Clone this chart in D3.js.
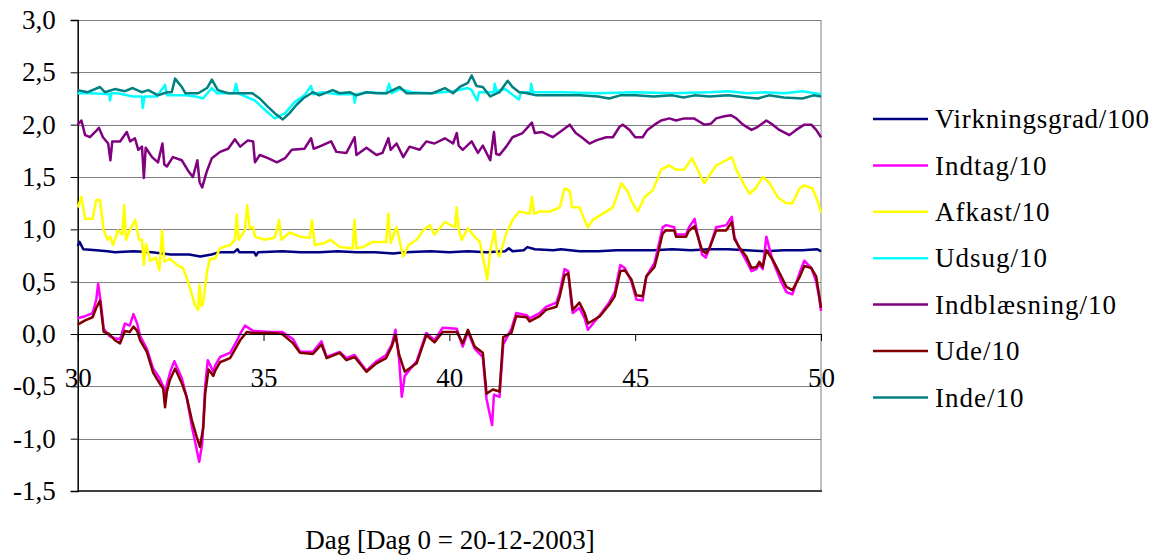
<!DOCTYPE html>
<html>
<head>
<meta charset="utf-8">
<script src="https://cdn.jsdelivr.net/npm/d3@7"></script>
<style>
  body { margin: 0; background: #fff; }
  svg, svg text { font-family: "Liberation Serif", "Times New Roman", serif; }
</style>
</head>
<body>
<div id="chart"></div>
<script>
const width = 1160;
const height = 558;

// Series data: [day, value]
const virkningsgrad = [[30,0.84],[30.05,0.88],[30.15,0.81],[30.5,0.8],[30.8,0.79],[31.0,0.78],[31.5,0.79],[32.0,0.78],[32.5,0.76],[33.0,0.76],[33.3,0.74],[33.6,0.76],[33.8,0.78],[34.2,0.78],[34.3,0.81],[34.35,0.78],[34.75,0.78],[34.8,0.75],[34.85,0.78],[35.5,0.79],[36.0,0.78],[36.5,0.78],[37.0,0.79],[37.5,0.78],[38.0,0.78],[38.5,0.77],[38.8,0.78],[39.5,0.79],[40.0,0.78],[40.5,0.79],[41.0,0.78],[41.5,0.79],[41.6,0.82],[41.7,0.79],[42.0,0.8],[42.1,0.83],[42.3,0.81],[42.8,0.8],[43.0,0.81],[43.5,0.79],[44.0,0.79],[44.5,0.8],[45.0,0.8],[45.5,0.8],[46.0,0.81],[46.5,0.8],[47.0,0.81],[47.5,0.81],[48.0,0.8],[48.5,0.79],[49.0,0.8],[49.5,0.8],[49.9,0.81],[50,0.79]];

const indtag = [[30,0.15],[30.2,0.17],[30.4,0.2],[30.5,0.33],[30.55,0.48],[30.62,0.3],[30.7,0.05],[30.85,-0.02],[31.0,-0.04],[31.14,-0.05],[31.27,0.1],[31.4,0.08],[31.5,0.19],[31.6,0.1],[31.68,-0.02],[31.86,-0.14],[32.03,-0.33],[32.2,-0.42],[32.3,-0.5],[32.35,-0.6],[32.4,-0.48],[32.5,-0.35],[32.6,-0.26],[32.8,-0.42],[32.93,-0.6],[33.07,-0.88],[33.2,-1.1],[33.27,-1.22],[33.35,-1.05],[33.43,-0.5],[33.5,-0.25],[33.65,-0.36],[33.7,-0.3],[33.83,-0.22],[34.1,-0.18],[34.23,-0.1],[34.37,0.0],[34.5,0.08],[34.72,0.03],[35.2,0.02],[35.5,0.02],[35.8,-0.05],[35.98,-0.17],[36.33,-0.17],[36.56,-0.07],[36.7,-0.22],[37.05,-0.17],[37.23,-0.23],[37.45,-0.2],[37.77,-0.35],[38.04,-0.26],[38.3,-0.2],[38.45,-0.1],[38.55,0.04],[38.65,-0.25],[38.72,-0.6],[38.8,-0.4],[39.12,-0.26],[39.38,0.01],[39.6,-0.06],[39.82,0.06],[40.2,0.05],[40.36,-0.12],[40.5,0.02],[40.68,-0.14],[40.9,-0.22],[41.0,-0.62],[41.15,-0.87],[41.2,-0.58],[41.35,-0.6],[41.45,-0.1],[41.67,0.05],[41.8,0.2],[42.08,0.18],[42.16,0.15],[42.43,0.2],[42.6,0.26],[42.88,0.3],[42.97,0.4],[43.1,0.62],[43.2,0.6],[43.28,0.3],[43.32,0.2],[43.5,0.25],[43.64,0.15],[43.73,0.04],[44.05,0.18],[44.3,0.3],[44.45,0.4],[44.6,0.66],[44.72,0.63],[44.9,0.5],[45.03,0.33],[45.2,0.32],[45.3,0.55],[45.52,0.68],[45.6,0.8],[45.74,1.02],[45.83,1.04],[46.05,1.02],[46.1,0.95],[46.37,0.95],[46.45,1.02],[46.6,1.1],[46.67,0.97],[46.8,0.76],[46.9,0.73],[47.0,0.82],[47.18,1.02],[47.45,1.04],[47.6,1.12],[47.67,0.93],[47.8,0.82],[47.99,0.7],[48.13,0.6],[48.26,0.62],[48.34,0.67],[48.43,0.62],[48.53,0.93],[48.7,0.7],[48.93,0.5],[49.07,0.4],[49.23,0.38],[49.42,0.58],[49.55,0.7],[49.74,0.63],[49.87,0.5],[49.95,0.35],[50,0.22]];

const afkast = [[30,1.21],[30.1,1.31],[30.2,1.1],[30.4,1.1],[30.5,1.28],[30.6,1.28],[30.7,0.99],[30.8,0.9],[30.87,0.93],[30.95,0.85],[31.08,0.99],[31.2,0.95],[31.25,1.23],[31.3,0.9],[31.43,1.01],[31.55,1.09],[31.65,0.9],[31.73,0.9],[31.78,0.66],[31.84,0.86],[31.95,0.7],[32.1,0.73],[32.2,0.61],[32.27,0.99],[32.33,0.69],[32.48,0.72],[32.67,0.66],[32.83,0.63],[32.95,0.52],[33.08,0.37],[33.15,0.28],[33.24,0.23],[33.28,0.47],[33.32,0.27],[33.37,0.28],[33.48,0.6],[33.56,0.72],[33.7,0.72],[33.83,0.82],[34.1,0.85],[34.23,0.9],[34.28,1.14],[34.33,0.9],[34.5,0.99],[34.56,1.23],[34.63,1.01],[34.72,1.02],[34.77,0.93],[35.03,0.9],[35.3,0.92],[35.42,1.09],[35.48,0.9],[35.7,0.97],[35.98,0.93],[36.25,0.92],[36.3,1.09],[36.38,0.85],[36.65,0.87],[36.8,0.9],[37.05,0.83],[37.4,0.82],[37.45,1.09],[37.5,0.82],[37.67,0.83],[37.94,0.88],[38.3,0.88],[38.36,1.15],[38.42,0.87],[38.58,1.02],[38.72,0.8],[38.76,0.74],[38.9,0.85],[39.12,0.9],[39.3,0.99],[39.47,1.04],[39.6,0.95],[39.88,1.07],[40.15,1.02],[40.2,1.21],[40.25,1.0],[40.33,0.9],[40.5,1.01],[40.68,0.93],[40.82,0.88],[40.9,0.74],[41.02,0.52],[41.1,0.8],[41.22,0.99],[41.28,0.78],[41.35,0.74],[41.53,0.96],[41.7,1.09],[41.88,1.17],[42.16,1.15],[42.22,1.31],[42.28,1.15],[42.43,1.17],[42.7,1.17],[42.97,1.21],[43.1,1.39],[43.24,1.37],[43.3,1.21],[43.5,1.21],[43.72,1.02],[43.86,1.09],[44.13,1.15],[44.4,1.21],[44.63,1.44],[44.8,1.36],[44.93,1.25],[45.07,1.17],[45.25,1.31],[45.47,1.37],[45.7,1.57],[45.92,1.61],[46.1,1.57],[46.32,1.57],[46.53,1.68],[46.72,1.54],[46.86,1.44],[47.0,1.52],[47.18,1.61],[47.45,1.66],[47.6,1.69],[47.72,1.57],[47.94,1.42],[48.08,1.34],[48.26,1.4],[48.43,1.5],[48.6,1.45],[48.83,1.31],[49.06,1.25],[49.23,1.25],[49.42,1.39],[49.55,1.42],[49.77,1.39],[49.9,1.28],[50,1.16]];

const udsug = [[30,2.3],[30.38,2.3],[30.85,2.29],[30.87,2.23],[30.9,2.3],[31.08,2.3],[31.48,2.27],[31.73,2.27],[31.75,2.16],[31.8,2.27],[32.13,2.27],[32.35,2.38],[32.4,2.28],[32.9,2.28],[33.16,2.27],[33.37,2.25],[33.61,2.35],[33.75,2.3],[34.2,2.3],[34.26,2.39],[34.32,2.3],[34.77,2.23],[35.04,2.14],[35.3,2.06],[35.58,2.11],[35.85,2.22],[36.1,2.28],[36.28,2.37],[36.33,2.29],[36.57,2.31],[37.0,2.29],[37.43,2.29],[37.45,2.21],[37.5,2.29],[37.8,2.31],[38.3,2.3],[38.38,2.39],[38.45,2.3],[38.66,2.34],[39.0,2.31],[39.5,2.3],[40.1,2.32],[40.5,2.35],[40.6,2.33],[40.75,2.23],[40.8,2.31],[41.2,2.31],[41.22,2.39],[41.27,2.32],[41.5,2.34],[41.87,2.24],[41.93,2.31],[42.18,2.31],[42.2,2.39],[42.25,2.31],[43.0,2.31],[44.0,2.3],[45.0,2.31],[46.0,2.3],[47.0,2.31],[47.5,2.32],[48.0,2.3],[48.5,2.31],[49.0,2.3],[49.5,2.32],[50,2.29]];

const indblaesning = [[30,2.0],[30.1,2.04],[30.2,1.9],[30.33,1.88],[30.47,1.93],[30.57,1.97],[30.68,1.88],[30.82,1.82],[30.88,1.66],[30.93,1.84],[31.14,1.84],[31.32,1.93],[31.41,1.84],[31.54,1.87],[31.63,1.76],[31.73,1.79],[31.78,1.49],[31.83,1.78],[32.0,1.69],[32.16,1.64],[32.28,1.82],[32.33,1.62],[32.4,1.6],[32.56,1.69],[32.8,1.66],[32.97,1.56],[33.1,1.5],[33.22,1.66],[33.28,1.45],[33.35,1.4],[33.48,1.56],[33.61,1.68],[33.83,1.74],[34.05,1.77],[34.23,1.86],[34.37,1.79],[34.58,1.85],[34.72,1.84],[34.77,1.64],[34.9,1.71],[35.12,1.68],[35.36,1.64],[35.58,1.68],[35.76,1.76],[36.1,1.77],[36.28,1.87],[36.35,1.77],[36.5,1.79],[36.82,1.84],[36.96,1.74],[37.23,1.73],[37.45,1.88],[37.5,1.71],[37.77,1.78],[38.04,1.71],[38.2,1.73],[38.36,1.87],[38.42,1.76],[38.58,1.82],[38.76,1.69],[38.93,1.79],[39.2,1.76],[39.38,1.84],[39.6,1.82],[39.88,1.87],[40.1,1.82],[40.2,1.92],[40.25,1.8],[40.36,1.76],[40.6,1.84],[40.77,1.73],[40.9,1.8],[41.1,1.66],[41.2,1.93],[41.26,1.72],[41.35,1.71],[41.53,1.79],[41.7,1.88],[41.97,1.92],[42.22,2.02],[42.3,1.92],[42.5,1.93],[42.78,1.88],[43.05,1.95],[43.24,2.0],[43.4,1.92],[43.56,1.88],[43.77,1.82],[43.95,1.85],[44.22,1.88],[44.4,1.88],[44.58,1.98],[44.67,2.0],[44.85,1.95],[45.0,1.88],[45.2,1.88],[45.33,1.95],[45.52,2.0],[45.7,2.04],[45.92,2.06],[46.1,2.04],[46.32,2.06],[46.58,2.06],[46.72,2.03],[46.86,2.0],[47.04,2.01],[47.18,2.06],[47.4,2.08],[47.58,2.09],[47.72,2.06],[47.9,2.0],[48.13,1.95],[48.3,1.98],[48.53,2.04],[48.7,2.0],[48.88,1.95],[49.15,1.9],[49.33,1.95],[49.55,2.0],[49.74,2.0],[49.87,1.95],[50,1.88]];

const ude = [[30,0.09],[30.2,0.13],[30.4,0.16],[30.5,0.25],[30.6,0.32],[30.7,0.02],[30.85,0.0],[31.0,-0.06],[31.14,-0.09],[31.27,0.03],[31.4,0.02],[31.5,0.07],[31.6,0.03],[31.68,-0.06],[31.86,-0.17],[32.03,-0.37],[32.2,-0.47],[32.3,-0.52],[32.35,-0.7],[32.4,-0.55],[32.48,-0.44],[32.62,-0.33],[32.8,-0.47],[32.93,-0.6],[33.07,-0.82],[33.2,-0.98],[33.29,-1.08],[33.38,-0.89],[33.43,-0.57],[33.52,-0.34],[33.65,-0.4],[33.7,-0.35],[33.83,-0.27],[34.1,-0.23],[34.23,-0.15],[34.37,-0.06],[34.55,0.02],[34.72,0.01],[35.2,0.01],[35.5,0.0],[35.8,-0.09],[35.98,-0.18],[36.33,-0.19],[36.56,-0.1],[36.7,-0.23],[37.05,-0.18],[37.23,-0.25],[37.45,-0.22],[37.77,-0.36],[38.04,-0.28],[38.3,-0.23],[38.45,-0.12],[38.55,-0.01],[38.65,-0.2],[38.8,-0.36],[39.12,-0.28],[39.38,-0.01],[39.6,-0.08],[39.82,0.02],[40.2,0.02],[40.36,-0.09],[40.5,0.04],[40.68,-0.12],[40.9,-0.18],[41.0,-0.57],[41.17,-0.53],[41.35,-0.55],[41.45,-0.03],[41.67,0.01],[41.8,0.17],[42.08,0.16],[42.16,0.12],[42.43,0.17],[42.6,0.23],[42.88,0.26],[42.97,0.36],[43.1,0.56],[43.2,0.58],[43.28,0.35],[43.32,0.23],[43.5,0.3],[43.64,0.2],[43.73,0.1],[44.05,0.17],[44.3,0.28],[44.45,0.36],[44.6,0.6],[44.72,0.61],[44.9,0.52],[45.03,0.37],[45.2,0.36],[45.3,0.55],[45.52,0.64],[45.6,0.75],[45.74,0.96],[45.83,0.99],[46.05,0.99],[46.1,0.93],[46.37,0.93],[46.45,0.99],[46.6,1.03],[46.67,0.95],[46.8,0.8],[46.9,0.77],[47.0,0.82],[47.18,0.99],[47.45,0.99],[47.6,1.07],[47.67,0.91],[47.8,0.83],[47.99,0.74],[48.13,0.63],[48.26,0.64],[48.34,0.69],[48.43,0.64],[48.53,0.8],[48.7,0.71],[48.93,0.55],[49.07,0.45],[49.23,0.42],[49.42,0.54],[49.55,0.65],[49.74,0.63],[49.87,0.55],[49.95,0.37],[50,0.25]];

const inde = [[30,2.33],[30.27,2.31],[30.6,2.36],[30.73,2.31],[31.0,2.34],[31.27,2.32],[31.48,2.35],[31.72,2.31],[31.9,2.33],[32.16,2.28],[32.4,2.31],[32.53,2.31],[32.62,2.44],[32.8,2.36],[32.9,2.3],[33.24,2.3],[33.48,2.35],[33.61,2.43],[33.77,2.33],[34.05,2.3],[34.4,2.3],[34.7,2.3],[34.9,2.25],[35.12,2.17],[35.3,2.11],[35.52,2.05],[35.7,2.11],[35.89,2.19],[36.1,2.26],[36.33,2.31],[36.5,2.28],[36.86,2.33],[37.05,2.3],[37.32,2.31],[37.5,2.28],[37.77,2.31],[38.04,2.3],[38.3,2.3],[38.66,2.36],[38.85,2.3],[39.55,2.3],[39.88,2.35],[40.1,2.3],[40.28,2.36],[40.5,2.4],[40.6,2.47],[40.73,2.37],[40.9,2.36],[41.1,2.27],[41.35,2.31],[41.57,2.42],[41.7,2.36],[41.88,2.31],[42.1,2.3],[42.34,2.28],[43.0,2.28],[43.5,2.28],[44.0,2.27],[44.3,2.25],[44.6,2.28],[45.0,2.28],[45.5,2.27],[46.0,2.28],[46.3,2.26],[46.6,2.28],[47.0,2.27],[47.5,2.28],[48.0,2.26],[48.3,2.25],[48.6,2.28],[49.0,2.26],[49.5,2.25],[49.8,2.28],[50,2.27]];

const seriesNames = ['Virkningsgrad/100', 'Indtag/10', 'Afkast/10', 'Udsug/10', 'Indblæsning/10', 'Ude/10', 'Inde/10'];
const seriesData = [virkningsgrad, indtag, afkast, udsug, indblaesning, ude, inde];
const seriesColors = ['#000080', '#FF00FF', '#FFFF00', '#00FFFF', '#800080', '#800000', '#008080'];

const xTicks = [30, 35, 40, 45, 50];
const yTicks = [-1.5, -1.0, -0.5, 0.0, 0.5, 1.0, 1.5, 2.0, 2.5, 3.0];
const xTitle = 'Dag [Dag 0 = 20-12-2003]';

const plot = { left: 77.7, right: 821, top: 20, bottom: 491 };
const fontSize = 27;
const serif = '"Liberation Serif", "Times New Roman", serif';

const svg = d3.select('#chart').append('svg')
  .attr('width', width)
  .attr('height', height)
  .attr('font-family', serif);

const x = d3.scaleLinear().domain([30, 50]).range([plot.left, plot.right]);
const y = d3.scaleLinear().domain([-1.5, 3]).range([plot.bottom, plot.top]);

const fmt = (v) => v.toFixed(1).replace('.', ',');

// Gridlines
svg.append('g')
  .selectAll('line')
  .data(yTicks)
  .enter()
  .append('line')
  .attr('x1', plot.left)
  .attr('x2', plot.right)
  .attr('y1', (d) => Math.round(y(d)) + 0.5)
  .attr('y2', (d) => Math.round(y(d)) + 0.5)
  .attr('stroke', '#808080')
  .attr('stroke-width', 1);

// Plot frame (right side and bottom)
svg.append('line')
  .attr('x1', plot.right).attr('x2', plot.right)
  .attr('y1', plot.top).attr('y2', plot.bottom)
  .attr('stroke', '#808080');
svg.append('line')
  .attr('x1', plot.left).attr('x2', plot.right + 1)
  .attr('y1', plot.bottom).attr('y2', plot.bottom)
  .attr('stroke', '#404040')
  .attr('stroke-width', 2);

// Y axis
const yAxis = svg.append('g')
  .attr('transform', `translate(${plot.left},0)`)
  .call(d3.axisLeft(y).tickValues(yTicks).tickFormat(fmt).tickSize(7).tickPadding(15));
yAxis.attr('font-family', serif).attr('font-size', fontSize);
yAxis.select('.domain').attr('stroke', '#000').attr('stroke-width', 1.5);
yAxis.selectAll('.tick line').attr('stroke', '#000');
yAxis.selectAll('text').attr('fill', '#000');

// Series lines
const line = d3.line()
  .x((d) => x(d[0]))
  .y((d) => y(d[1]));

svg.append('g')
  .selectAll('path')
  .data(seriesData)
  .enter()
  .append('path')
  .attr('d', line)
  .attr('fill', 'none')
  .attr('stroke', (_, i) => seriesColors[i])
  .attr('stroke-width', 2.5)
  .attr('stroke-linejoin', 'round');

// X axis crossing at 0
const xAxis = svg.append('g')
  .attr('transform', `translate(0,${y(0)})`)
  .call(d3.axisBottom(x).tickValues(xTicks).tickFormat(d3.format('d')).tickSize(7).tickSizeOuter(0));
xAxis.attr('font-family', serif).attr('font-size', fontSize);
xAxis.select('.domain').attr('stroke', '#000').attr('stroke-width', 1.2);
xAxis.selectAll('.tick line').attr('stroke', '#000');
xAxis.selectAll('text').attr('y', 34).attr('fill', '#000');

// X title
svg.append('text')
  .attr('x', 450)
  .attr('y', 549)
  .attr('text-anchor', 'middle')
  .attr('font-size', fontSize)
  .text(xTitle);

// Legend
const legend = svg.append('g')
  .selectAll('g')
  .data(seriesNames)
  .enter()
  .append('g')
  .attr('transform', (_, i) => `translate(873,${119 + i * 46.4})`);

legend.append('line')
  .attr('x1', 0)
  .attr('x2', 55)
  .attr('stroke', (_, i) => seriesColors[i])
  .attr('stroke-width', 2.5);

legend.append('text')
  .attr('x', 62)
  .attr('dy', '0.34em')
  .attr('font-size', fontSize)
  .attr('letter-spacing', 1)
  .attr('textLength', (_, i) => (i === 0 ? 215 : null))
  .attr('lengthAdjust', 'spacing')
  .text((d) => d);
</script>
</body>
</html>
